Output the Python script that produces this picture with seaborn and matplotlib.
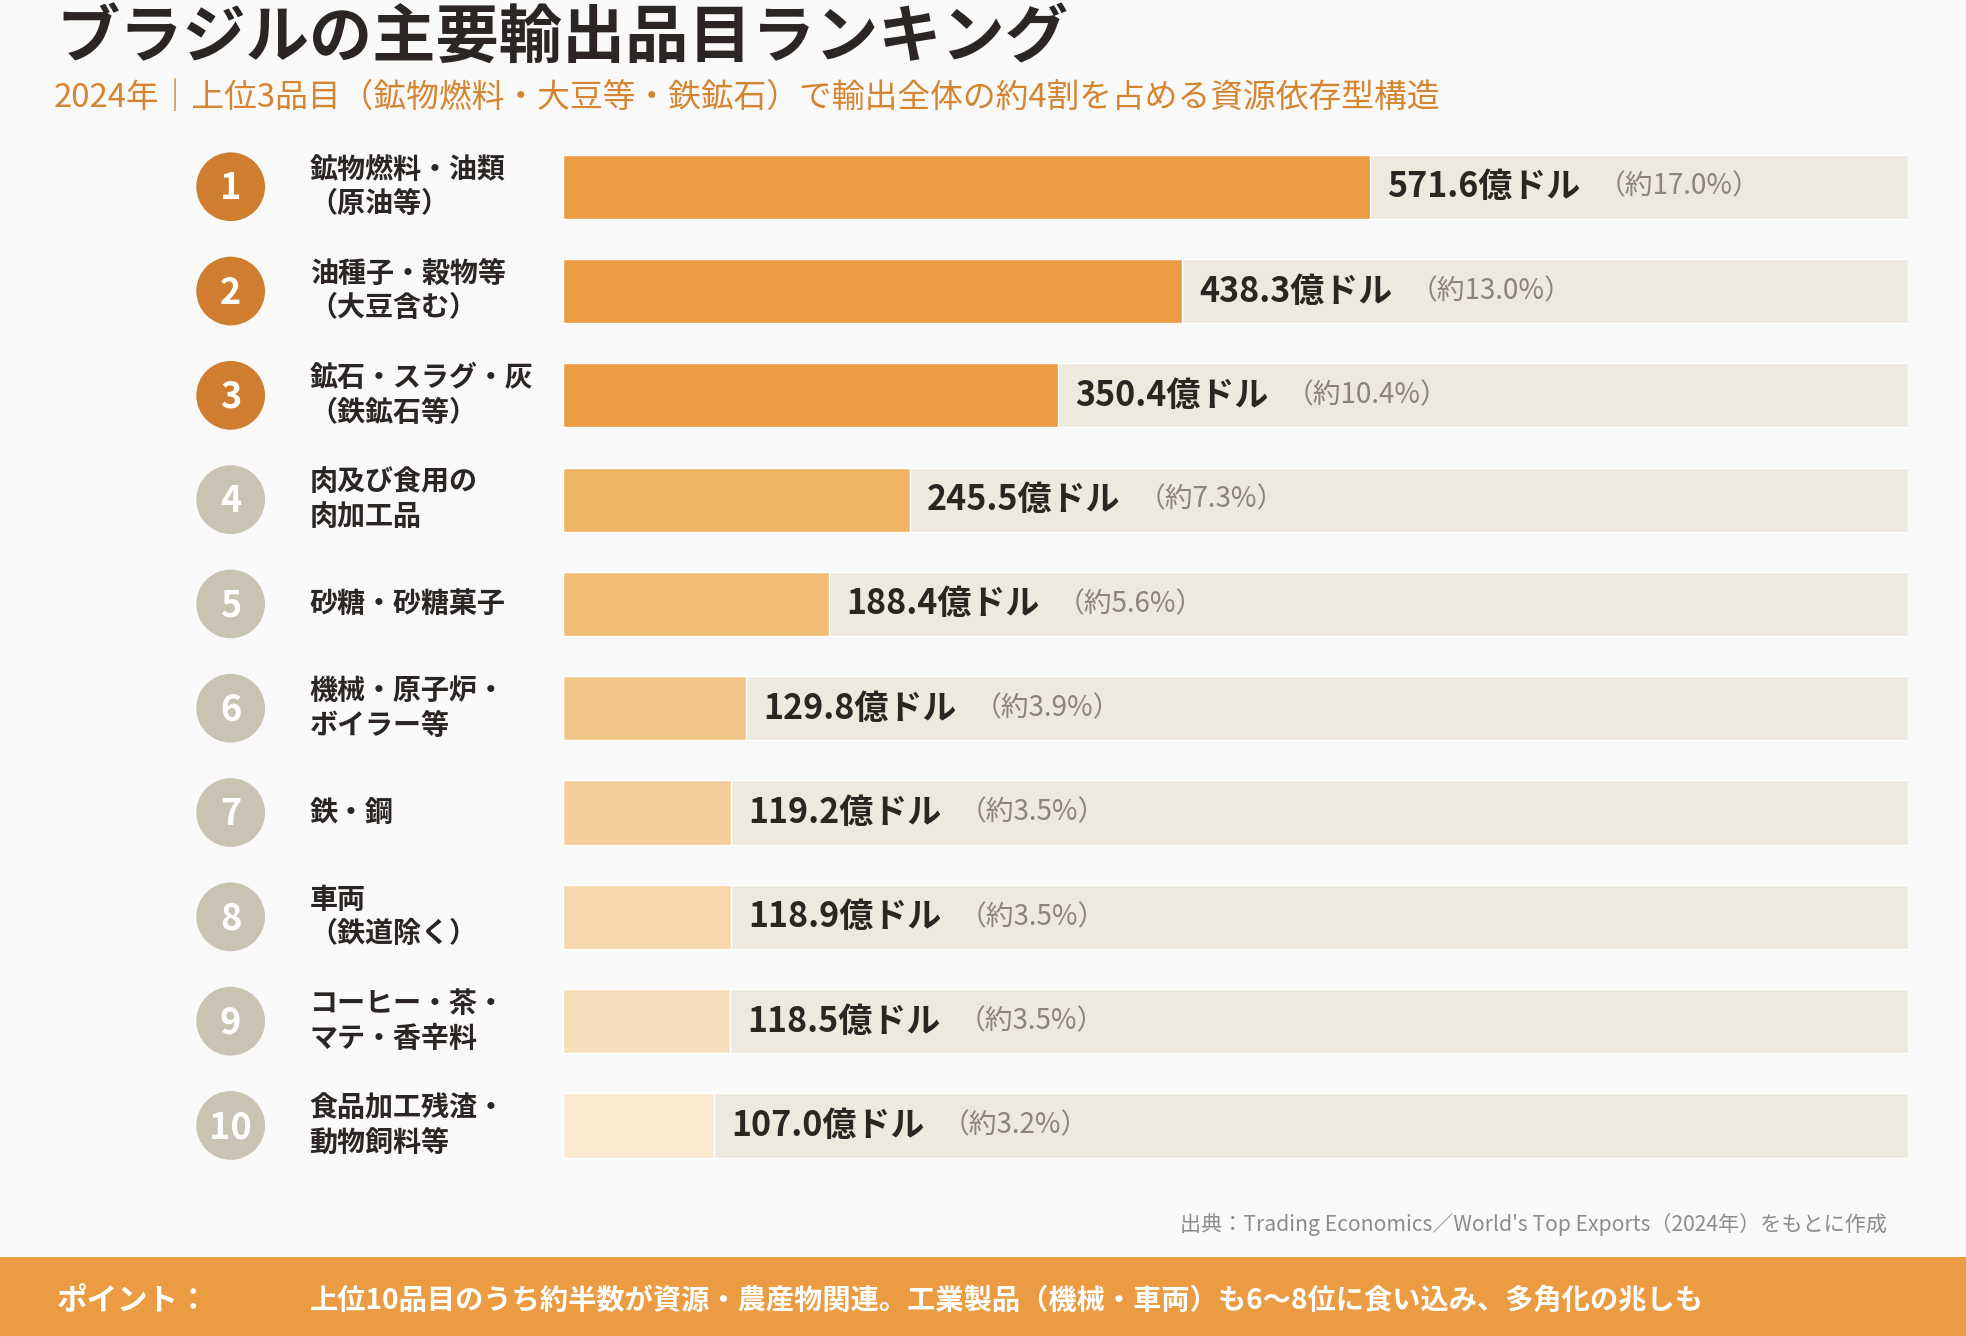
import numpy as np
import pandas as pd
import matplotlib
matplotlib.use("Agg")
import matplotlib.pyplot as plt
import matplotlib.transforms as mtransforms
from matplotlib.patches import Rectangle
import seaborn as sns

# data
ranks = [1, 2, 3, 4, 5, 6, 7, 8, 9, 10]
items = ["鉱物燃料・油類\n（原油等）", "油種子・穀物等\n（大豆含む）", "鉱石・スラグ・灰\n（鉄鉱石等）",
         "肉及び食用の\n肉加工品", "砂糖・砂糖菓子", "機械・原子炉・\nボイラー等", "鉄・鋼",
         "車両\n（鉄道除く）", "コーヒー・茶・\nマテ・香辛料", "食品加工残渣・\n動物飼料等"]
values = [571.6, 438.3, 350.4, 245.5, 188.4, 129.8, 119.2, 118.9, 118.5, 107.0]
shares = [17.0, 13.0, 10.4, 7.3, 5.6, 3.9, 3.5, 3.5, 3.5, 3.2]

title = "ブラジルの主要輸出品目ランキング"
subtitle = "2024年｜上位3品目（鉱物燃料・大豆等・鉄鉱石）で輸出全体の約4割を占める資源依存型構造"
source = "出典：Trading Economics／World's Top Exports（2024年）をもとに作成"
point_head = "ポイント："
point_text = "上位10品目のうち約半数が資源・農産物関連。工業製品（機械・車両）も6〜8位に食い込み、多角化の兆しも"

bar_colors = ["#eb9b41", "#eb9b41", "#eb9b41", "#efb466", "#f0bc76",
              "#f2c588", "#f4ce9a", "#f6d7ab", "#f7dfbb", "#fae8cf"]
circle_colors = ["#cf7d2f"] * 3 + ["#c9c3b4"] * 7
BG = "#f9f9f9"
TRACK = "#ede9df"
DARK = "#2b2623"
ORANGE = "#eb9b41"

sns.set_style("white")
plt.rcParams['font.family'] = ['Noto Sans CJK JP', 'DejaVu Sans']

df = pd.DataFrame({"item": items, "value": values, "share": shares})
xmax = max(values) / 0.6
df["track"] = xmax

fig = plt.figure(figsize=(19.66, 13.36), dpi=100, facecolor=BG)
ax = fig.add_axes([449 / 1568, 1 - 939.6 / 1066, 1073 / 1568, (939.6 - 107.4) / 1066])
ax.set_facecolor(BG)

sns.barplot(data=df, x="track", y="item", color=TRACK, width=0.615, ax=ax, saturation=1)
sns.barplot(data=df, x="value", y="item", hue="item", palette=bar_colors, dodge=False,
            legend=False, width=0.615, ax=ax, saturation=1)
ax.set_xlim(0, xmax)
ax.set_ylim(len(items) - 0.5, -0.5)
ax.set_xlabel("")
ax.set_ylabel("")
ax.set_xticks([])
ax.set_yticks([])
sns.despine(ax=ax, left=True, bottom=True)

trans = mtransforms.blended_transform_factory(ax.transAxes, ax.transData)
pos = np.arange(len(items))
ax.scatter([-0.247] * len(items), pos, s=2450, c=circle_colors, transform=trans,
           clip_on=False, zorder=3, linewidths=0)
for i, r in enumerate(ranks):
    ax.text(-0.247, i + 0.02, str(r), transform=trans, ha="center", va="center",
            fontsize=26, fontweight="bold", color="white", zorder=4)
    ax.text(-0.1883, i, items[i], transform=trans, ha="left", va="center",
            fontsize=20.2, fontweight="bold", color=DARK, linespacing=1.3)
    t = ax.annotate(f"{values[i]:.1f}億ドル", xy=(values[i], i), xytext=(12.5, 0),
                    textcoords="offset points", ha="left", va="center",
                    fontsize=24.5, fontweight="bold", color=DARK)
    ax.annotate(f"（約{shares[i]:.1f}%）", xy=(1, 0.5), xycoords=t, xytext=(12, 0),
                textcoords="offset points", ha="left", va="center",
                fontsize=20, color="#8a847a")

fig.text(45 / 1568, 1 - 31 / 1066, title, ha="left", va="center",
         fontsize=45.5, fontweight="bold", color=DARK)
fig.text(43 / 1568, 1 - 78 / 1066, subtitle, ha="left", va="center",
         fontsize=23.6, color="#d5842f")
fig.text(1505 / 1568, 1 - 977 / 1066, source, ha="right", va="center",
         fontsize=15.2, color="#8c8c8c")

fig.add_artist(Rectangle((0, 0), 1, 63 / 1066, transform=fig.transFigure,
                         facecolor=ORANGE, edgecolor="none"))
fig.text(45 / 1568, 1 - 1038 / 1066, point_head, ha="left", va="center",
         fontsize=22, fontweight="bold", color="white")
fig.text(247 / 1568, 1 - 1038 / 1066, point_text, ha="left", va="center",
         fontsize=20.3, fontweight="bold", color="white")

fig.savefig("out.png", dpi=100, facecolor=BG)
